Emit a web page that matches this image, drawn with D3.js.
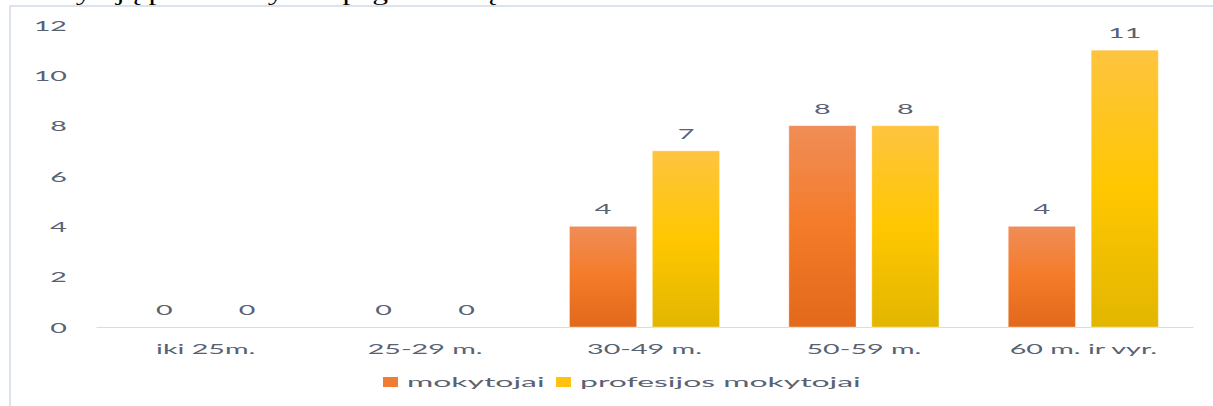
<!DOCTYPE html>
<html>
<head>
<meta charset="utf-8">
<script src="https://cdn.jsdelivr.net/npm/d3@7/dist/d3.min.js"></script>
<style>
  html, body { margin: 0; padding: 0; background: #fff; overflow: hidden; }
  svg { display: block; }
  .lbl { font-family: Lato, "Open Sans", sans-serif; font-size: 14px; fill: #596273; }
</style>
</head>
<body>
<svg id="chart" width="1213" height="406"></svg>
<script>
// Data
var categories = ["iki 25m.", "25-29 m.", "30-49 m.", "50-59 m.", "60 m. ir vyr."];
var seriesNames = ["mokytojai", "profesijos mokytojai"];
var mokytojai = [0, 0, 4, 8, 4];
var profesijos = [0, 0, 7, 8, 11];
var yTicks = [0, 2, 4, 6, 8, 10, 12];

// Layout / style
var W = 1213, H = 406;
var plotLeft = 96, plotRight = 1193, plotTop = 25, base = 327;
var sx = 2.05; // horizontal stretch of the text
var legSx = 2.28;

var svg = d3.select("#chart");

// clipped caption above the chart
svg.append("text")
    .attr("transform", "translate(16,-0.5) scale(1.58,1)")
    .attr("font-family", "'Liberation Serif', 'Times New Roman', serif")
    .attr("font-size", 20)
    .attr("fill", "#000")
    .text("Mokytojų pasiskirstymas pagal amžių");

// chart frame
svg.append("rect")
    .attr("x", 10).attr("y", 6)
    .attr("width", W + 20).attr("height", H + 20)
    .attr("fill", "#fff")
    .attr("stroke", "#dde3ea")
    .attr("stroke-width", 2);

// gradients
var defs = svg.append("defs");
function grad(id, stops) {
    var g = defs.append("linearGradient").attr("id", id)
        .attr("x1", 0).attr("y1", 0).attr("x2", 0).attr("y2", 1);
    stops.forEach(function(s) {
        g.append("stop").attr("offset", s[0]).attr("stop-color", s[1]);
    });
}
grad("gOrange", [[0, "#f08d57"], [0.5, "#f47b29"], [1, "#e2681b"]]);
grad("gYellow", [[0, "#fec440"], [0.5, "#ffc700"], [1, "#e2b600"]]);
var fills = ["url(#gOrange)", "url(#gYellow)"];
var legendFills = ["#f07d33", "#ffc20e"];

// scales
var x0 = d3.scaleBand().domain(categories).range([plotLeft, plotRight]).padding(0);
var x1 = d3.scaleBand().domain(seriesNames)
    .range([x0.bandwidth() * 0.158, x0.bandwidth() * 0.842])
    .paddingInner(0.19).paddingOuter(0);
var y = d3.scaleLinear().domain([0, 12]).range([base, plotTop]);

// y axis
var yAxis = svg.append("g")
    .attr("transform", "translate(" + plotLeft + ",0)")
    .call(d3.axisLeft(y).tickValues(yTicks).tickSize(0));
yAxis.select(".domain").remove();
yAxis.attr("font-family", null).attr("font-size", null);
yAxis.selectAll("text")
    .attr("class", "lbl")
    .attr("x", 0).attr("dy", "0.36em")
    .attr("text-anchor", "end")
    .attr("fill", null)
    .attr("transform", "translate(-29,0) scale(" + sx + ",1)");

// x axis
var xAxis = svg.append("g")
    .attr("transform", "translate(0," + base + ")")
    .call(d3.axisBottom(x0).tickSize(0).tickSizeOuter(0));
xAxis.select(".domain").attr("stroke", "#d9dde2");
xAxis.attr("font-family", null).attr("font-size", null);
xAxis.selectAll("text")
    .attr("class", "lbl")
    .attr("y", 0).attr("dy", 0)
    .attr("fill", null)
    .attr("transform", "translate(0,27) scale(" + sx + ",1)");

// bars
var rows = categories.map(function(c, i) {
    return [
        {cat: c, s: seriesNames[0], v: mokytojai[i], k: 0},
        {cat: c, s: seriesNames[1], v: profesijos[i], k: 1}
    ];
});

var groups = svg.append("g").selectAll("g")
    .data(rows)
    .enter().append("g")
    .attr("transform", function(d) { return "translate(" + x0(d[0].cat) + ",0)"; });

groups.selectAll("rect")
    .data(function(d) { return d; })
    .enter().append("rect")
    .attr("x", function(d) { return x1(d.s); })
    .attr("y", function(d) { return y(d.v); })
    .attr("width", x1.bandwidth())
    .attr("height", function(d) { return base - y(d.v); })
    .attr("fill", function(d) { return fills[d.k]; })
    .attr("stroke", "rgba(255,255,255,0.35)")
    .attr("stroke-width", 1);

groups.selectAll("text")
    .data(function(d) { return d; })
    .enter().append("text")
    .attr("class", "lbl")
    .attr("text-anchor", "middle")
    .attr("transform", function(d) {
        return "translate(" + (x1(d.s) + x1.bandwidth() / 2) + "," + (y(d.v) - 12) + ") scale(" + sx + ",1)";
    })
    .text(function(d) { return d.v; });

// legend
var legendX = [383, 556];
var leg = svg.append("g").selectAll("g")
    .data(seriesNames)
    .enter().append("g")
    .attr("transform", function(d, i) { return "translate(" + legendX[i] + ",377)"; });
leg.append("rect")
    .attr("width", 15).attr("height", 10)
    .attr("fill", function(d, i) { return legendFills[i]; });
leg.append("text")
    .attr("class", "lbl")
    .attr("transform", "translate(24,10) scale(" + legSx + ",1)")
    .text(function(d) { return d; });
</script>
</body>
</html>
